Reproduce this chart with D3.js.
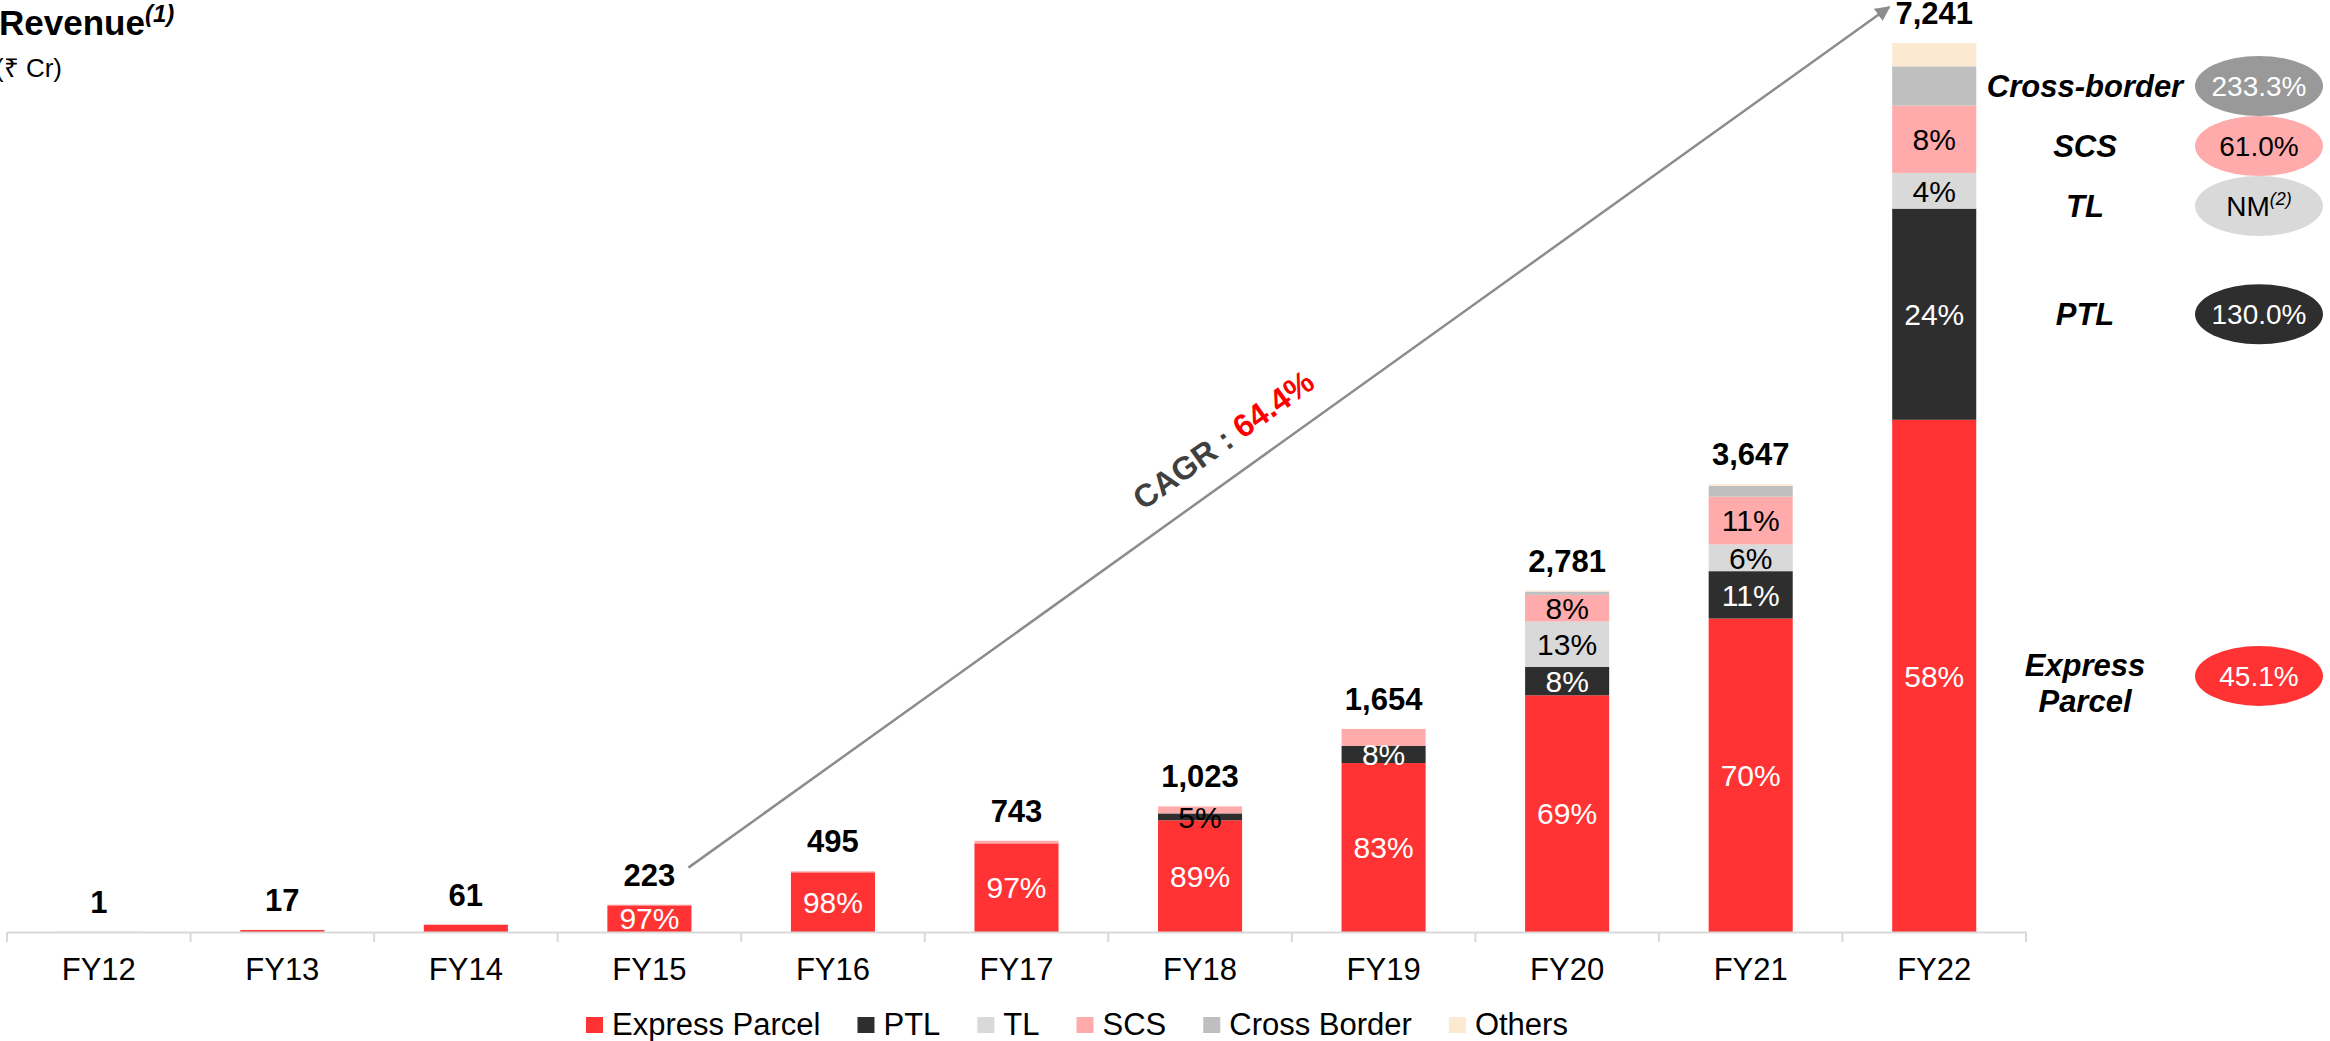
<!DOCTYPE html>
<html>
<head>
<meta charset="utf-8">
<script src="https://cdn.jsdelivr.net/npm/d3@7"></script>
<style>
  body { margin: 0; background: #fff; }
  text { font-family: "Liberation Sans", Arial, sans-serif; }
</style>
</head>
<body>
<div id="chart-area"></div>
<script>
const WIDTH = 2330
const HEIGHT = 1041

// revenue by segment, Rs Cr
const years = ["FY12", "FY13", "FY14", "FY15", "FY16", "FY17", "FY18", "FY19", "FY20", "FY21", "FY22"]
const expressParcel = [1, 16, 59, 217, 486, 722, 910, 1376, 1928, 2553, 4172]
const ptl = [0, 0, 0, 0, 0, 0, 56, 139, 232, 386, 1720]
const tl = [0, 0, 0, 0, 0, 0, 0, 0, 369, 218, 291]
const scs = [0, 1, 2, 6, 9, 21, 57, 139, 217, 389, 548]
const crossBorder = [0, 0, 0, 0, 0, 0, 0, 0, 27, 88, 320]
const others = [0, 0, 0, 0, 0, 0, 0, 0, 8, 13, 190]

const seriesNames = ["Express Parcel", "PTL", "TL", "SCS", "Cross Border", "Others"]
const seriesValues = [expressParcel, ptl, tl, scs, crossBorder, others]
const colors = ["#ff3333", "#2e2e2e", "#d9d9d9", "#ffabab", "#bfbfbf", "#fce9d2"]

// which segments carry a share label
const pctShown = {
  "Express Parcel": ["FY15", "FY16", "FY17", "FY18", "FY19", "FY20", "FY21", "FY22"],
  "PTL": ["FY18", "FY19", "FY20", "FY21", "FY22"],
  "TL": ["FY20", "FY21", "FY22"],
  "SCS": ["FY20", "FY21", "FY22"]
}

// FY22 growth callouts on the right
const growthSeries = ["Cross Border", "SCS", "TL", "PTL", "Express Parcel"]
const growthLabels = ["Cross-border", "SCS", "TL", "PTL", "Express Parcel"]
const growthValues = ["233.3%", "61.0%", "NM", "130.0%", "45.1%"]
const growthFill = ["#999999", "#ffabab", "#d9d9d9", "#2e2e2e", "#ff3333"]
const growthText = ["#fff", "#000", "#000", "#fff", "#fff"]

const cagrLabel = "64.4%"

const data = years.map((yr, i) => {
  const row = { year: yr }
  seriesNames.forEach((s, j) => row[s] = seriesValues[j][i])
  row.total = d3.sum(seriesValues, v => v[i])
  return row
})

const svg = d3.select("#chart-area").append("svg")
  .attr("width", WIDTH)
  .attr("height", HEIGHT)

const BASE = 932

const x = d3.scaleBand()
  .domain(years)
  .range([7, 2026])
  .paddingInner(0.542)
  .paddingOuter(0.271)

const y = d3.scaleLinear()
  .domain([0, d3.max(data, d => d.total)])
  .range([BASE, 43])

const color = d3.scaleOrdinal().domain(seriesNames).range(colors)

const stacked = d3.stack().keys(seriesNames)(data)

// bars
const layers = svg.append("g").selectAll("g")
  .data(stacked)
  .enter().append("g")
  .attr("fill", d => color(d.key))

layers.selectAll("rect")
  .data(d => d.map(p => ({ key: d.key, p: p })))
  .enter().append("rect")
  .attr("x", d => x(d.p.data.year))
  .attr("width", x.bandwidth())
  .attr("y", d => y(d.p[1]))
  .attr("height", d => y(d.p[0]) - y(d.p[1]))

// share labels inside segments
const pctFmt = v => Math.round(v * 100) + "%"
const labelData = []
stacked.forEach(layer => {
  const shown = pctShown[layer.key] || []
  layer.forEach(p => {
    if (shown.includes(p.data.year)) labelData.push({ key: layer.key, p: p })
  })
})

svg.append("g").selectAll("text")
  .data(labelData)
  .enter().append("text")
  .attr("x", d => x(d.p.data.year) + x.bandwidth() / 2)
  .attr("y", d => (y(d.p[0]) + y(d.p[1])) / 2)
  .attr("dy", "0.36em")
  .attr("text-anchor", "middle")
  .attr("font-size", "30px")
  .attr("fill", d => {
    const h = y(d.p[0]) - y(d.p[1])
    if (d.key == "Express Parcel") return "#fff"
    if (d.key == "PTL") return h < 12 ? "#000" : "#fff"
    return "#000"
  })
  .text(d => pctFmt((d.p[1] - d.p[0]) / d.p.data.total))

// totals
svg.append("g").selectAll("text")
  .data(data)
  .enter().append("text")
  .attr("x", d => x(d.year) + x.bandwidth() / 2)
  .attr("y", d => y(d.total) - 19)
  .attr("text-anchor", "middle")
  .attr("font-size", "31px")
  .attr("font-weight", "bold")
  .text(d => d3.format(",")(d.total))

// x axis
const xAxisGroup = svg.append("g")
  .attr("transform", `translate(0, ${BASE})`)

xAxisGroup.call(d3.axisBottom(x).tickSize(0).tickPadding(48))
xAxisGroup.select(".domain").attr("stroke", "#d9d9d9").attr("stroke-width", 2)
xAxisGroup.selectAll(".tick text")
  .attr("font-size", "31px")
  .attr("fill", "#000")
  .attr("font-family", "'Liberation Sans', Arial, sans-serif")
  .attr("dy", "0")

// boundary ticks between categories
const bounds = years.map(yr => x(yr) - x.step() * x.paddingInner() / 2)
bounds.push(x.range()[1])
xAxisGroup.selectAll("line.bound")
  .data(bounds)
  .enter().append("line")
  .attr("class", "bound")
  .attr("x1", d => d).attr("x2", d => d)
  .attr("y1", 0).attr("y2", 10)
  .attr("stroke", "#d9d9d9")
  .attr("stroke-width", 2)

// CAGR arrow from FY15 to FY22
const a0 = [x("FY15") + x.bandwidth() - 3, y(data[3].total) - 37]
const a1 = [x("FY22") - 3, y(data[10].total) - 36]

svg.append("defs").append("marker")
  .attr("id", "arrow")
  .attr("viewBox", "0 0 10 10")
  .attr("refX", 9).attr("refY", 5)
  .attr("markerWidth", 6).attr("markerHeight", 6)
  .attr("markerUnits", "strokeWidth")
  .attr("orient", "auto")
  .append("path")
  .attr("d", "M0,0 L10,5 L0,10 z")
  .attr("fill", "#8c8c8c")

svg.append("line")
  .attr("x1", a0[0]).attr("y1", a0[1])
  .attr("x2", a1[0]).attr("y2", a1[1])
  .attr("stroke", "#8c8c8c")
  .attr("stroke-width", 2.5)
  .attr("marker-end", "url(#arrow)")

const ang = Math.atan2(a1[1] - a0[1], a1[0] - a0[0]) * 180 / Math.PI
const t = 0.463
const cagr = svg.append("text")
  .attr("transform", `translate(${a0[0] + t * (a1[0] - a0[0])}, ${a0[1] + t * (a1[1] - a0[1])}) rotate(${ang})`)
  .attr("y", -25)
  .attr("text-anchor", "middle")
  .attr("font-size", "32px")
  .attr("font-weight", "bold")
  .attr("fill", "#404040")
cagr.append("tspan").text("CAGR : ")
cagr.append("tspan").attr("fill", "#ff0000").text(cagrLabel)

// growth callouts, placed by FY22 segment middles
const last = data.length - 1
let prev = -Infinity
const growthY = growthSeries.map(s => {
  const layer = stacked.find(l => l.key == s)[last]
  let c = (y(layer[0]) + y(layer[1])) / 2
  if (c < prev + 60) c = prev + 60
  prev = c
  return c
})

const growth = svg.append("g")
growthSeries.forEach((s, i) => {
  const cy = growthY[i]
  growth.append("ellipse")
    .attr("cx", 2259).attr("cy", cy)
    .attr("rx", 64).attr("ry", 30)
    .attr("fill", growthFill[i])

  const vt = growth.append("text")
    .attr("x", 2259).attr("y", cy + 10)
    .attr("text-anchor", "middle")
    .attr("font-size", "28px")
    .attr("fill", growthText[i])
  if (growthValues[i] == "NM") {
    vt.append("tspan").text("NM")
    vt.append("tspan").attr("font-size", "18px").attr("font-style", "italic").attr("dy", "-11").text("(2)")
  } else {
    vt.text(growthValues[i])
  }

  const words = growthLabels[i] == "Express Parcel" ? ["Express", "Parcel"] : [growthLabels[i]]
  const lt = growth.append("text")
    .attr("text-anchor", "middle")
    .attr("font-size", "31px")
    .attr("font-weight", "bold")
    .attr("font-style", "italic")
  words.forEach((w, k) => {
    lt.append("tspan")
      .attr("x", 2085)
      .attr("y", cy + 11 + (k - (words.length - 1) / 2) * 36 + (words.length > 1 ? 7 : 0))
      .text(w)
  })
})

// title
const title = svg.append("text")
  .attr("x", -1).attr("y", 35)
  .attr("font-size", "35px")
  .attr("font-weight", "bold")
title.append("tspan").text("Revenue")
title.append("tspan").attr("font-size", "24px").attr("font-style", "italic").attr("dy", "-13").text("(1)")

svg.append("text")
  .attr("x", -5).attr("y", 77)
  .attr("font-size", "26px")
  .text("(₹ Cr)")

// legend
const legend = svg.append("g").attr("transform", "translate(586, 1017)")
let lx = 0
seriesNames.forEach((s, i) => {
  legend.append("rect")
    .attr("x", lx).attr("y", 0)
    .attr("width", 17).attr("height", 16)
    .attr("fill", colors[i])
  const tx = legend.append("text")
    .attr("x", lx + 26).attr("y", 18)
    .attr("font-size", "31px")
    .text(s)
  lx += 26 + tx.node().getComputedTextLength() + 37
})
</script>
</body>
</html>
